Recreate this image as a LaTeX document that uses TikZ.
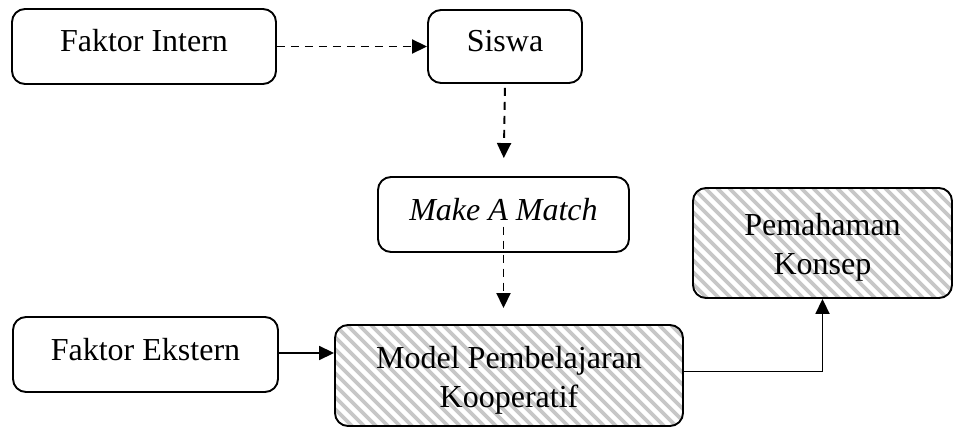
\documentclass[tikz,border=0pt]{standalone}
\usepackage{fontspec}
\setmainfont{Liberation Serif}
\usetikzlibrary{arrows.meta}
\tikzset{
  box/.style={draw, line width=1.9pt, rounded corners=13pt, inner sep=0pt,
    font=\fontsize{32}{39}\selectfont, text height=22pt, text depth=11pt},
  hatched/.style={draw, line width=1.9pt, rounded corners=13pt, inner sep=0pt,
    path picture={
      \foreach \i in {-15,...,32}
        \draw[black!22, line width=3.8pt]
          ([xshift=\i*12pt]path picture bounding box.north west) -- ++(160pt,-160pt);
    }},
  txt/.style={inner sep=0pt, align=center, font=\fontsize{32}{39}\selectfont},
  dasharrow/.style={line width=1.9pt, dash pattern=on 8pt off 6pt,
    -{Triangle[length=15pt,width=14pt]}},
  solidarrow/.style={line width=1.8pt, -{Triangle[length=15pt,width=14pt]}},
}
\begin{document}
\begin{tikzpicture}[x=1pt,y=-1pt]
\useasboundingbox (0,0) rectangle (954,428);
% nodes
\node[box, minimum width=264pt, minimum height=75pt] (fi) at (144,46.5) {Faktor Intern};
\node[box, minimum width=154pt, minimum height=73pt] (si) at (505,46.5) {Siswa};
\node[box, minimum width=251pt, minimum height=75pt] (mam) at (503.5,214.5) {\textit{Make A Match}};
\node[hatched, minimum width=259pt, minimum height=110pt] (pk) at (822.5,243) {};
\node[txt, anchor=north] (pkt) at (822.5,213) {Pemahaman\\Konsep};
\node[box, minimum width=265pt, minimum height=75pt] (fe) at (145.5,354.5) {Faktor Ekstern};
\node[hatched, minimum width=348pt, minimum height=101pt] (mk) at (509,375.5) {};
\node[txt, anchor=north] (mkt) at (509,346) {Model Pembelajaran\\Kooperatif};
% connectors
\draw[dasharrow] (fi.east) -- (si.west);
\draw[dasharrow, shorten <=4pt, shorten >=18pt] (si.south) -- (mam.north);
\draw[dasharrow, shorten >=16pt] ([yshift=-12pt]mam.center) -- (mam.center |- mk.north);
\draw[solidarrow] ([yshift=1.5pt]fe.east) -- ([yshift=1.5pt]fe.east -| mk.west);
\draw[solidarrow] ([yshift=4pt]mk.east) -| (pk.south);
\end{tikzpicture}
\end{document}
